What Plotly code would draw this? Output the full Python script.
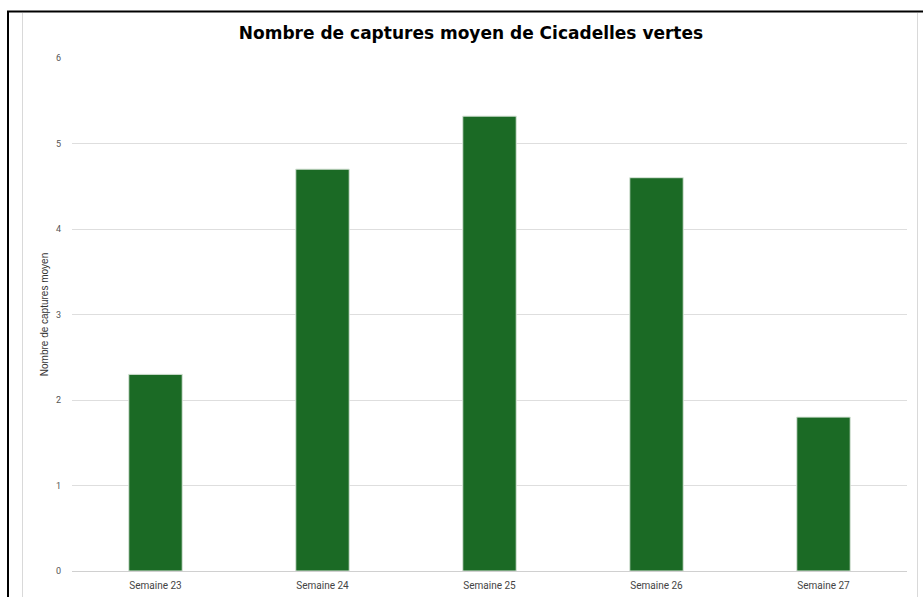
import plotly.graph_objects as go

categories = ["Semaine 23", "Semaine 24", "Semaine 25", "Semaine 26", "Semaine 27"]
values = [2.3, 4.7, 5.32, 4.6, 1.8]
y_ticks = [0, 1, 2, 3, 4, 5, 6]

W, H = 923, 597
L, R, T, B = 72, 16, 58, 26
pw, ph = W - L - R, H - T - B

def px(x):
    return (x - L) / pw

def py(y):
    return (H - B - y) / ph

fig = go.Figure(go.Bar(
    x=categories, y=values,
    marker=dict(color="#1b6a25", line=dict(color="#d8e4d8", width=1)),
    width=0.32,
))

shapes = [
    dict(type="line", xref="paper", yref="paper", x0=px(8), x1=px(8), y0=py(11), y1=py(600),
         line=dict(color="black", width=2)),
    dict(type="line", xref="paper", yref="paper", x0=px(7), x1=px(925), y0=py(11.5), y1=py(11.5),
         line=dict(color="black", width=2)),
    dict(type="line", xref="paper", yref="paper", x0=px(22.5), x1=px(22.5), y0=py(13), y1=py(600),
         line=dict(color="#d9d9d9", width=1)),
    dict(type="line", xref="paper", yref="paper", x0=px(917.5), x1=px(917.5), y0=py(13), y1=py(600),
         line=dict(color="#d9d9d9", width=1)),
]

fig.update_layout(
    width=W, height=H,
    margin=dict(l=L, r=R, t=T, b=B),
    paper_bgcolor="white", plot_bgcolor="white",
    showlegend=False,
    title=dict(text="<b>Nombre de captures moyen de Cicadelles vertes</b>",
               x=471 / W, xanchor="center", y=1 - 33 / H, yanchor="middle",
               font=dict(family="DejaVu Sans", size=17, color="black")),
    xaxis=dict(showgrid=False, showline=False, ticks="", ticklabelstandoff=7, automargin=False,
               tickfont=dict(family="Roboto", size=10, color="#444444")),
    yaxis=dict(range=[0, 6], tickvals=y_ticks, showgrid=True, gridcolor="#dedede", gridwidth=1,
               zeroline=True, zerolinecolor="#d0d0d0", zerolinewidth=1,
               ticks="", ticklabelstandoff=10, automargin=False,
               tickfont=dict(family="Roboto", size=9, color="#555555"),
               title=dict(text="Nombre de captures moyen", standoff=5,
                          font=dict(family="Liberation Sans", size=10, color="#333333"))),
    shapes=shapes,
)

fig.write_html("out.html")
